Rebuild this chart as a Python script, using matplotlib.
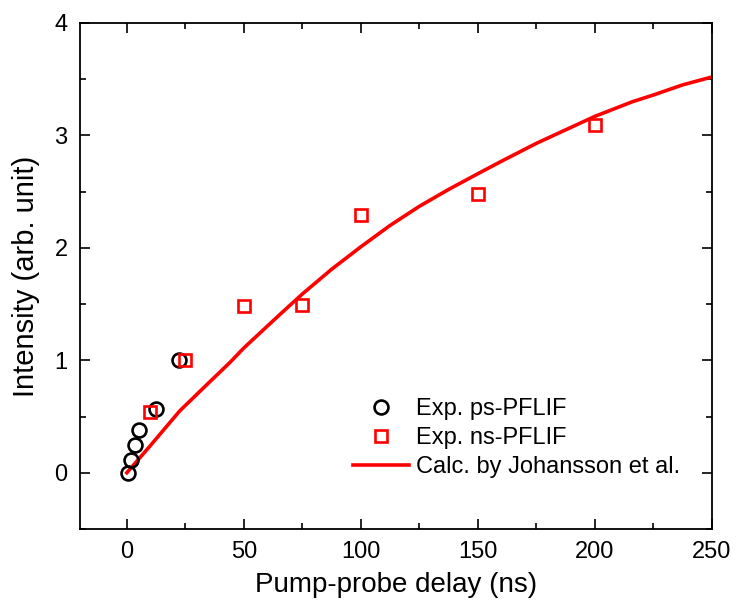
import numpy as np
import matplotlib as mpl
mpl.use('Agg')
import matplotlib.pyplot as plt
from matplotlib.ticker import MultipleLocator

mpl.rcParams['font.family'] = ['Liberation Sans', 'DejaVu Sans']

# ps-PFLIF measurement (black circles)
ps_delay = [0.5, 1.7, 3.7, 5.1, 12.3, 22.2]
ps_int = [0.0, 0.115, 0.25, 0.38, 0.57, 1.0]

# ns-PFLIF measurement (red squares)
ns_delay = [10, 25, 50, 75, 100, 150, 200]
ns_int = [0.54, 1.0, 1.48, 1.49, 2.29, 2.48, 3.09]

# calculation by Johansson et al.
calc_delay = [0, 10, 22.6, 35, 44, 50, 65, 75, 87.5, 100, 112.5, 125,
              137.5, 150, 160, 175, 187.5, 200, 216, 225, 237.5, 250]
calc_int = [0.0, 0.24, 0.55, 0.80, 0.98, 1.11, 1.40, 1.59, 1.81, 2.01, 2.20, 2.37,
            2.52, 2.66, 2.77, 2.93, 3.05, 3.17, 3.30, 3.36, 3.45, 3.52]

fig = plt.figure(figsize=(7.36, 6.02), dpi=100)
ax = fig.add_axes([0.1087, 0.1213, 0.8587, 0.8405])

ax.plot(ps_delay, ps_int, 'o', mfc='none', mec='black', mew=1.9, ms=10,
        label='Exp. ps-PFLIF', zorder=3)
ax.plot(ns_delay, ns_int, 's', mfc='none', mec='red', mew=1.9, ms=9,
        label='Exp. ns-PFLIF', zorder=4)
ax.plot(calc_delay, calc_int, '-', color='red', lw=2.6,
        label='Calc. by Johansson et al.', zorder=2)

ax.set_xlim(-20, 250)
ax.set_ylim(-0.5, 4)
ax.xaxis.set_major_locator(MultipleLocator(50))
ax.xaxis.set_minor_locator(MultipleLocator(25))
ax.yaxis.set_major_locator(MultipleLocator(1))
ax.yaxis.set_minor_locator(MultipleLocator(0.5))
ax.tick_params(which='both', direction='in', top=True, right=True,
               width=1.2, labelsize=17)
ax.tick_params(which='major', length=7, pad=9)
ax.tick_params(which='minor', length=4)
for s in ax.spines.values():
    s.set_linewidth(1.3)

ax.set_xlabel('Pump-probe delay (ns)', fontsize=20, labelpad=6)
ax.set_ylabel('Intensity (arb. unit)', fontsize=21, labelpad=10)

ax.legend(loc='upper left', bbox_to_anchor=(0.432, 0.259), frameon=False,
          fontsize=17, handlelength=2.35, handletextpad=0.3, labelspacing=0.3,
          borderpad=0, borderaxespad=0)

plt.savefig('out.png', dpi=100)
